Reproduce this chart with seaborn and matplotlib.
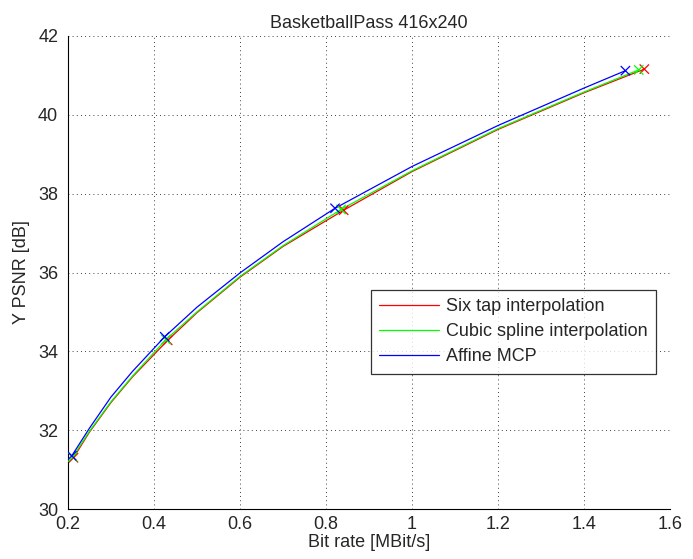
import pandas as pd
import seaborn as sns
import matplotlib
matplotlib.use("Agg")
import matplotlib.pyplot as plt

# measured RD points (markers)
rate_six = [0.213, 0.432, 0.841, 1.540]
psnr_six = [31.30, 34.28, 37.58, 41.16]
rate_cubic = [0.211, 0.428, 0.835, 1.527]
psnr_cubic = [31.32, 34.30, 37.60, 41.14]
rate_affine = [0.209, 0.425, 0.821, 1.496]
psnr_affine = [31.35, 34.37, 37.63, 41.12]

# curve readings taken off the picture between the markers
curve_six_x = [0.213, 0.25, 0.30, 0.35, 0.432, 0.50, 0.60, 0.70, 0.841, 1.00, 1.20, 1.40, 1.540]
curve_six_y = [31.30, 31.95, 32.70, 33.35, 34.28, 34.98, 35.88, 36.66, 37.58, 38.56, 39.63, 40.56, 41.16]
curve_cubic_x = [0.211, 0.25, 0.30, 0.35, 0.428, 0.50, 0.60, 0.70, 0.835, 1.00, 1.20, 1.40, 1.527]
curve_cubic_y = [31.32, 31.97, 32.72, 33.37, 34.30, 35.00, 35.90, 36.68, 37.60, 38.58, 39.65, 40.58, 41.14]
curve_affine_x = [0.209, 0.25, 0.30, 0.35, 0.425, 0.50, 0.60, 0.70, 0.821, 1.00, 1.20, 1.40, 1.496]
curve_affine_y = [31.35, 32.05, 32.84, 33.49, 34.37, 35.12, 35.99, 36.78, 37.63, 38.69, 39.73, 40.68, 41.12]

names = ["Six tap interpolation", "Cubic spline interpolation", "Affine MCP"]
colors = ["#ff0000", "#00ff00", "#0000ff"]

curves = pd.concat([
    pd.DataFrame({"rate": curve_six_x, "psnr": curve_six_y, "method": names[0]}),
    pd.DataFrame({"rate": curve_cubic_x, "psnr": curve_cubic_y, "method": names[1]}),
    pd.DataFrame({"rate": curve_affine_x, "psnr": curve_affine_y, "method": names[2]}),
], ignore_index=True)
points = pd.concat([
    pd.DataFrame({"rate": rate_six, "psnr": psnr_six, "method": names[0]}),
    pd.DataFrame({"rate": rate_cubic, "psnr": psnr_cubic, "method": names[1]}),
    pd.DataFrame({"rate": rate_affine, "psnr": psnr_affine, "method": names[2]}),
], ignore_index=True)

sns.set_style("white")
plt.rcParams["font.family"] = ["Liberation Sans", "DejaVu Sans"]
plt.rcParams["xtick.direction"] = "in"
plt.rcParams["ytick.direction"] = "in"

fig = plt.figure(figsize=(6.93, 5.59), dpi=100)
ax = fig.add_axes([0.098, 0.0894, 0.869, 0.8462])

palette = dict(zip(names, colors))
sns.lineplot(data=curves, x="rate", y="psnr", hue="method", palette=palette,
             sort=False, estimator=None, linewidth=0.9, ax=ax)
sns.scatterplot(data=points, x="rate", y="psnr", hue="method", palette=palette,
                marker="x", s=45, linewidth=0.9, legend=False, ax=ax, zorder=3)

ax.set_xlim(0.2, 1.6)
ax.set_ylim(30, 42)
ax.set_xticks([0.2, 0.4, 0.6, 0.8, 1, 1.2, 1.4, 1.6])
ax.set_xticklabels(["0.2", "0.4", "0.6", "0.8", "1", "1.2", "1.4", "1.6"])
ax.set_yticks([30, 32, 34, 36, 38, 40, 42])
ax.tick_params(labelsize=13, length=4, color="black")
ax.tick_params(axis="x", pad=5)
ax.tick_params(axis="y", pad=7)

ax.grid(True, linestyle=(0, (1, 4)), color="black", linewidth=0.6)
for side in ["top", "right"]:
    ax.spines[side].set_visible(False)
for side in ["left", "bottom"]:
    ax.spines[side].set_color("black")
    ax.spines[side].set_linewidth(0.8)

ax.set_title("BasketballPass 416x240", fontsize=13, pad=6)
ax.set_xlabel("Bit rate [MBit/s]", fontsize=13, labelpad=1)
ax.set_ylabel("Y PSNR [dB]", fontsize=13, labelpad=6)

leg = ax.legend(loc="upper left", bbox_to_anchor=(0.503, 0.463), fontsize=13,
                frameon=True, fancybox=False, handlelength=3.3, handletextpad=0.4,
                borderpad=0.45, labelspacing=0.45, borderaxespad=0)
leg.get_frame().set_edgecolor("black")
leg.get_frame().set_linewidth(0.9)
for line in leg.get_lines():
    line.set_linewidth(0.9)

fig.savefig("out.png", dpi=100)
